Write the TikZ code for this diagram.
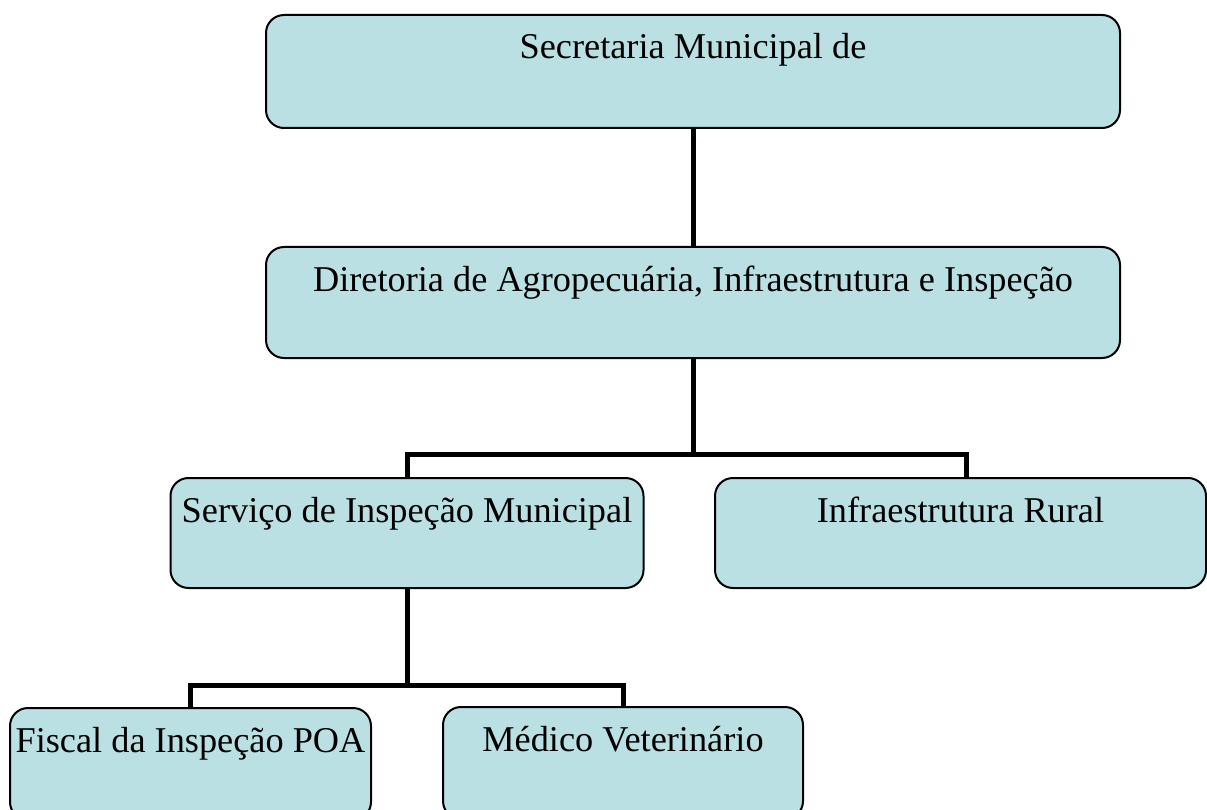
\documentclass[tikz,border=0pt]{standalone}
\usepackage{fontspec}
\setmainfont{Liberation Serif}
\definecolor{boxfill}{RGB}{186,224,227}
\tikzset{
  orgbox/.style={draw=black, line width=2pt, fill=boxfill, rounded corners=18pt,
    inner sep=0pt, text height=44pt, font=\fontsize{36.3}{42}\selectfont},
  conn/.style={draw=black, line width=5pt}
}
\begin{document}
\begin{tikzpicture}[x=1pt,y=-1pt]
\useasboundingbox (0,0) rectangle (1207,810);
\node[orgbox, minimum width=854pt, text depth=69pt] (b1) at (693,71.5) {Secretaria Municipal de};
\node[orgbox, minimum width=854pt, text depth=67pt] (b2) at (693,302.5) {Diretoria de Agropecuária, Infraestrutura e Inspeção};
\node[orgbox, minimum width=473pt, text depth=66pt] (b3) at (407,533) {Serviço de Inspeção Municipal};
\node[orgbox, minimum width=491pt, text depth=66pt] (b4) at (960.5,533) {Infraestrutura Rural};
\node[orgbox, minimum width=361pt, text depth=68pt] (b5) at (190.5,764) {Fiscal da Inspeção POA};
\node[orgbox, minimum width=360pt, text depth=68pt] (b6) at (623,763) {Médico Veterinário};
\coordinate (j1) at (693,454);
\coordinate (j2) at (407,685);
\draw[conn] (b1.south) -- (b2.north);
\draw[conn] (b2.south) -- (j1);
\draw[conn] (b3.north) |- (j1);
\draw[conn] ([xshift=5.5pt]b4.north) |- (j1);
\draw[conn] (b3.south) -- (j2);
\draw[conn] (b5.north) |- (j2);
\draw[conn] (b6.north) |- (j2);
\end{tikzpicture}
\end{document}
